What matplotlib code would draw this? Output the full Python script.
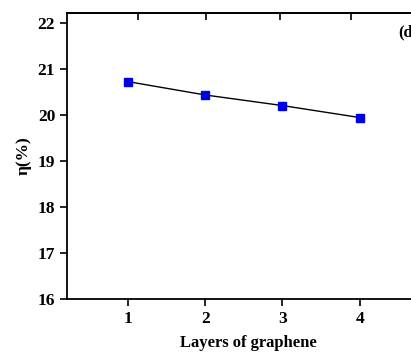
import numpy as np
import matplotlib
matplotlib.use("Agg")
import matplotlib.pyplot as plt

# Daten
layers = [1, 2, 3, 4]
eta = [20.72, 20.43, 20.20, 19.94]
y_ticks = [16, 17, 18, 19, 20, 21, 22]
top_ticks = [1.13, 2.01, 2.97, 3.89]

plt.rcParams['font.family'] = ['Liberation Serif', 'DejaVu Serif']
plt.rcParams['font.weight'] = 'bold'

fig = plt.figure(figsize=(4.11, 3.52), dpi=100)
ax = fig.add_axes([67/411, 1-299/352, (430-67)/411, (299-13)/352])

ax.plot(layers, eta, color='black', lw=1, marker='s', markersize=6,
        markerfacecolor='#0000e0', markeredgecolor='#0000e0')

ax.set_xlim(0.21, 4.91)
ax.set_ylim(16, 22.21)
ax.set_xticks(layers)
ax.set_yticks(y_ticks)
ax.tick_params(axis='both', direction='out', length=5, width=1.2, labelsize=12.5)
for lab in ax.get_xticklabels() + ax.get_yticklabels():
    lab.set_fontweight('bold')

# obere Achse mit Ticks nach innen
top = ax.secondary_xaxis('top')
top.set_xticks(top_ticks)
top.tick_params(direction='in', length=5, width=1.2, labeltop=False)

for s in ax.spines.values():
    s.set_linewidth(1.3)
top.spines['top'].set_linewidth(1.3)

ax.set_xlabel('Layers of graphene', fontsize=12, fontweight='bold', labelpad=6)
ax.set_ylabel('η(%)', fontsize=12.5, fontweight='bold', labelpad=4)
fig.text(398/411, 1-32/352, '(d', fontsize=12, fontweight='bold', va='center', ha='left')

fig.savefig('out.png', dpi=100)
